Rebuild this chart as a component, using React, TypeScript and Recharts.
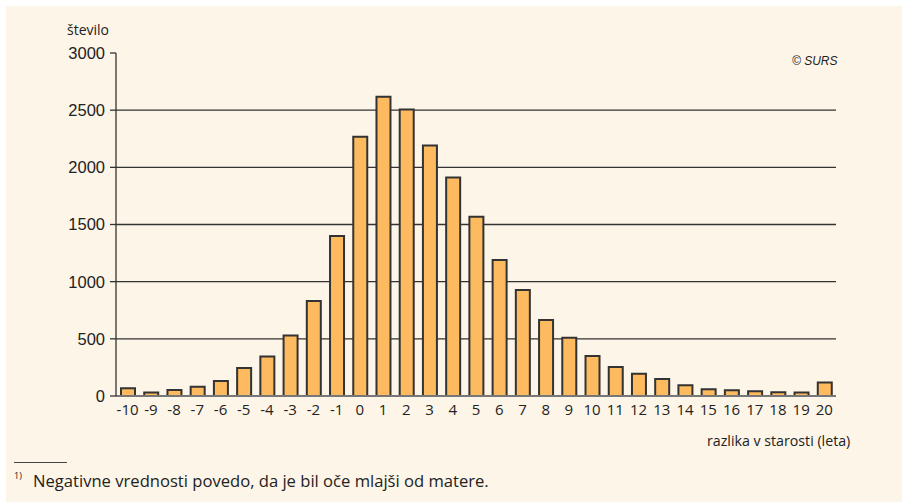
import { BarChart, Bar, XAxis, YAxis, CartesianGrid } from "recharts";

const ageGaps = [
  "-10", "-9", "-8", "-7", "-6", "-5", "-4", "-3", "-2", "-1",
  "0", "1", "2", "3", "4", "5", "6", "7", "8", "9",
  "10", "11", "12", "13", "14", "15", "16", "17", "18", "19", "20",
];
const counts = [
  67, 30, 52, 81, 131, 245, 345, 530, 830, 1400,
  2267, 2617, 2505, 2191, 1912, 1567, 1189, 927, 664, 510,
  350, 253, 195, 149, 93, 58, 50, 41, 32, 30, 117,
];
const yTicks = [0, 500, 1000, 1500, 2000, 2500, 3000];
const gridValues = [500, 1000, 1500, 2000, 2500];

const data = ageGaps.map((gap, i) => ({ gap, count: counts[i] }));

const DIN = "'Open Sans', 'DejaVu Sans', sans-serif";
const ARIAL = "'Liberation Sans', Arial, sans-serif";

export default function App() {
  return (
    <div style={{ position: "absolute", left: 0, top: 0, width: 902, height: 504, background: "#fff" }}>
      <div style={{ position: "absolute", left: 6, top: 6, width: 896, height: 496, background: "#fdf5e7" }} />
      <div style={{ position: "absolute", left: 0, top: 0 }}>
        <BarChart
          width={902}
          height={504}
          data={data}
          margin={{ top: 53, right: 66, bottom: 78, left: 56 }}
          barCategoryGap={0}
        >
          <CartesianGrid vertical={false} horizontalValues={gridValues} stroke="#333" strokeWidth={1.3} />
          <XAxis
            dataKey="gap"
            height={30}
            tickLine={false}
            axisLine={{ stroke: "#777", strokeWidth: 2 }}
            tickSize={0}
            tickMargin={8}
            interval={0}
            tick={{ fill: "#222", fontSize: 15, fontFamily: DIN }}
          />
          <YAxis
            width={60}
            domain={[0, 3000]}
            ticks={yTicks}
            interval={0}
            axisLine={{ stroke: "#333", strokeWidth: 1.3 }}
            tickLine={{ stroke: "#333", strokeWidth: 1.3 }}
            tickSize={6}
            tickMargin={5}
            tick={{ fill: "#222", fontSize: 16.5, fontFamily: ARIAL }}
          />
          <Bar dataKey="count" fill="#fdba5f" stroke="#333" strokeWidth={2} barSize={14} isAnimationActive={false} />
        </BarChart>
      </div>
      <div style={{ position: "absolute", left: 67, top: 20, fontFamily: DIN, fontSize: 14, color: "#222" }}>število</div>
      <div style={{ position: "absolute", left: 792, top: 54, fontFamily: ARIAL, fontSize: 12, fontStyle: "italic", color: "#222" }}>© SURS</div>
      <div style={{ position: "absolute", left: 707, top: 431, fontFamily: DIN, fontSize: 14.2, color: "#222" }}>razlika v starosti (leta)</div>
      <div style={{ position: "absolute", left: 14, top: 462, width: 53, height: 1, background: "#444" }} />
      <div style={{ position: "absolute", left: 14, top: 469, fontFamily: DIN, fontSize: 9, color: "#222" }}>1)</div>
      <div style={{ position: "absolute", left: 33, top: 469, fontFamily: DIN, fontSize: 16.6, color: "#222" }}>
        Negativne vrednosti povedo, da je bil oče mlajši od matere.
      </div>
    </div>
  );
}
